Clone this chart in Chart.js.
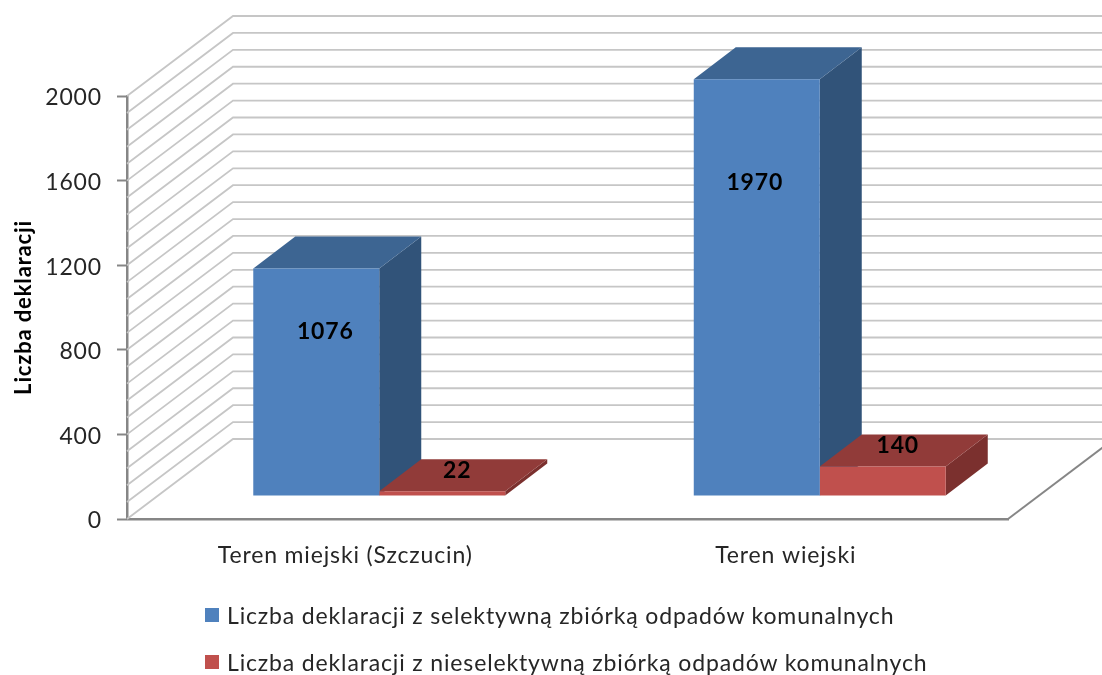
<!DOCTYPE html>
<html lang="pl">
<head>
<meta charset="utf-8">
<title>Liczba deklaracji</title>
<style>
  html, body { margin: 0; padding: 0; background: #fff; }
  #wrap { position: relative; width: 1102px; height: 675px; overflow: hidden; }
  canvas { display: block; }
  #legend { position: absolute; left: 205px; top: 0; font: 23px Lato, sans-serif; color: #262626; letter-spacing: 0.85px; }
  #legend div { position: absolute; left: 0; white-space: nowrap; line-height: 28px; }
  #legend i { position: absolute; left: 0; top: 7px; width: 14px; height: 14px; }
  #legend span { margin-left: 22px; }
</style>
</head>
<body>
<div id="wrap">
  <canvas id="chart" width="1102" height="675"></canvas>
  <div id="legend"></div>
</div>
<script src="https://cdn.jsdelivr.net/npm/chart.js@4"></script>
<script>
const categories = ['Teren miejski (Szczucin)', 'Teren wiejski'];
const selective = [1076, 1970];
const nonSelective = [22, 140];
const seriesNames = [
  'Liczba deklaracji z selektywną zbiórką odpadów komunalnych',
  'Liczba deklaracji z nieselektywną zbiórką odpadów komunalnych',
];
const axisTitle = 'Liczba deklaracji';
const yMax = 2000;
const majorStep = 400;
const minorStep = 80;

// 3D look: colours of each face, per series
const BLUE = { front: '#4f81bd', top: '#3d6592', side: '#315379' };
const RED = { front: '#c0504d', top: '#913b39', side: '#7b302e' };
const GRID = '#c6c6c6';
const AXIS = '#868686';
const TEXT = '#262626';

// wall depth (floor corner to back corner) and where the bars stand on the floor
const WALL = { dx: 106, dy: -80 };
const BAR_SHIFT = { dx: 32, dy: -23 };
const BAR_DEPTH = { dx: 42, dy: -32 };

function poly(ctx, pts, fill) {
  ctx.beginPath();
  pts.forEach((p, i) => (i ? ctx.lineTo(p[0], p[1]) : ctx.moveTo(p[0], p[1])));
  ctx.closePath();
  ctx.fillStyle = fill;
  ctx.fill();
}

// Lato runs narrower than the original font. Has to be set from a hook, the
// context gets reset when Chart.js sizes the canvas.
const spacing = {
  id: 'spacing',
  beforeLayout(chart) { chart.ctx.letterSpacing = '0.85px'; },
  beforeDraw(chart) { chart.ctx.letterSpacing = '0.85px'; },
};

const walls = {
  id: 'walls',
  beforeDatasetsDraw(chart) {
    const { ctx, scales: { y } } = chart;
    const { left, right, bottom } = chart.chartArea;
    ctx.save();
    ctx.lineWidth = 1.8;
    ctx.strokeStyle = GRID;
    for (let v = 0; v <= yMax; v += minorStep) {
      const py = y.getPixelForValue(v);
      ctx.beginPath();
      ctx.moveTo(left, py);
      ctx.lineTo(left + WALL.dx, py + WALL.dy);
      ctx.lineTo(chart.width, py + WALL.dy);
      ctx.stroke();
    }
    // right edge of the floor
    ctx.lineWidth = 2;
    ctx.strokeStyle = AXIS;
    ctx.beginPath();
    ctx.moveTo(right, bottom);
    ctx.lineTo(right + WALL.dx, bottom + WALL.dy);
    ctx.stroke();
    ctx.restore();
  },
};

// Side and top faces come from the bar elements; Chart.js itself paints the fronts
// on top, inside the same translate.
const bars3d = {
  id: 'bars3d',
  beforeDatasetsDraw(chart) {
    const { ctx } = chart;
    ctx.save();
    ctx.translate(BAR_SHIFT.dx, BAR_SHIFT.dy);
    const { dx, dy } = BAR_DEPTH;
    [0, 1].forEach((di) => {
      const colors = di === 0 ? BLUE : RED;
      chart.getDatasetMeta(di).data.forEach((el) => {
        const { x, y, base, width } = el.getProps(['x', 'y', 'base', 'width']);
        const l = x - width / 2, r = x + width / 2;
        poly(ctx, [[r, y], [r + dx, y + dy], [r + dx, base + dy], [r, base]], colors.side);
        poly(ctx, [[l, y], [l + dx, y + dy], [r + dx, y + dy], [r, y]], colors.top);
      });
    });
  },
  afterDatasetsDraw(chart) {
    chart.ctx.restore();
  },
};

// Excel put the labels in slightly different spots: inside the blue fronts, on the red tops
const valueLabels = {
  id: 'valueLabels',
  afterDraw(chart) {
    const { ctx } = chart;
    ctx.save();
    ctx.font = 'bold 23px Lato, sans-serif';
    ctx.fillStyle = '#000';
    ctx.textAlign = 'center';
    ctx.textBaseline = 'middle';
    chart.getDatasetMeta(0).data.forEach((el, i) => {
      const shiftX = i === 0 ? 9 : -2;
      const ly = el.y + (el.base - el.y) * (i === 0 ? 0.276 : 0.247);
      ctx.fillText(String(selective[i]), el.x + BAR_SHIFT.dx + shiftX, ly + BAR_SHIFT.dy);
    });
    chart.getDatasetMeta(1).data.forEach((el, i) => {
      ctx.fillText(String(nonSelective[i]), el.x + BAR_SHIFT.dx + 15, el.y + BAR_SHIFT.dy - 21);
    });
    ctx.restore();
  },
};

new Chart(document.getElementById('chart'), {
  type: 'bar',
  data: {
    labels: categories,
    datasets: [
      { label: seriesNames[0], data: selective, backgroundColor: BLUE.front, clip: false },
      { label: seriesNames[1], data: nonSelective, backgroundColor: RED.front, clip: false },
    ],
  },
  plugins: [spacing, walls, bars3d, valueLabels],
  options: {
    responsive: false,
    animation: false,
    layout: { padding: { top: 96, right: 94, bottom: 0, left: 0 } },
    datasets: { bar: { categoryPercentage: 0.572, barPercentage: 1 } },
    plugins: { legend: { display: false }, tooltip: { enabled: false } },
    scales: {
      x: {
        afterFit: (s) => { s.height = 156; },
        grid: { display: false, drawTicks: false },
        border: { color: AXIS, width: 2.5 },
        ticks: { color: TEXT, font: { family: 'Lato, sans-serif', size: 23 }, padding: 23, labelOffset: -2, maxRotation: 0 },
      },
      y: {
        min: 0,
        max: yMax,
        afterFit: (s) => { s.width = 127; },
        grid: { drawOnChartArea: false, color: AXIS, tickLength: 10, tickWidth: 2 },
        border: { color: AXIS, width: 2.5 },
        ticks: {
          stepSize: majorStep,
          color: TEXT,
          font: { family: 'Lato, sans-serif', size: 23 },
          padding: 15,
          labelOffset: 2,
          callback: (v) => String(v),
        },
        title: {
          display: true,
          text: axisTitle,
          color: '#000',
          font: { family: 'Lato, sans-serif', size: 22, weight: 'bold' },
          padding: { top: 11, bottom: 0 },
        },
      },
    },
  },
});

// legend rows, stacked and left aligned like the original
const legendTops = [601, 648];
const legendEl = document.getElementById('legend');
seriesNames.forEach((name, i) => {
  const row = document.createElement('div');
  row.style.top = legendTops[i] + 'px';
  const box = document.createElement('i');
  box.style.background = (i === 0 ? BLUE : RED).front;
  const label = document.createElement('span');
  label.textContent = name;
  row.append(box, label);
  legendEl.append(row);
});
</script>
</body>
</html>
